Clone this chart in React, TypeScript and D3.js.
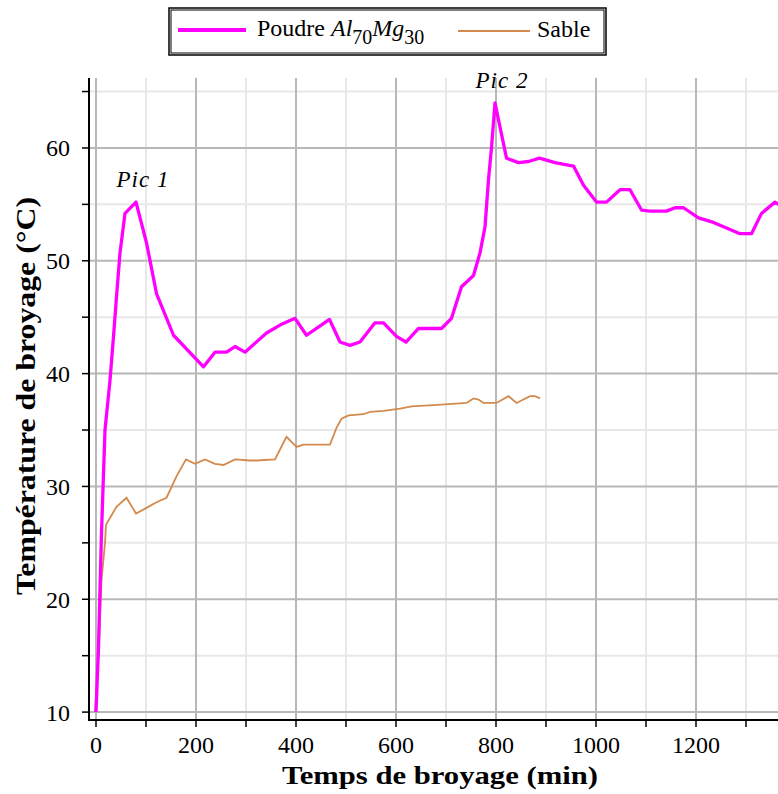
import React from "react";
import * as d3 from "d3";

// Temps de broyage (min) / température (°C)
const poudreTime = [0, 5, 11, 18, 28, 35, 41, 48, 58, 80, 101, 121, 155, 215, 238, 261, 278, 298, 341, 368, 398, 421, 441, 467, 488, 508, 528, 558, 575, 601, 620, 645, 691, 711, 731, 755, 768, 778, 785, 791, 798, 805, 821, 845, 865, 887, 918, 955, 975, 1001, 1021, 1048, 1068, 1091, 1108, 1141, 1158, 1175, 1205, 1235, 1261, 1288, 1311, 1331, 1358, 1372];
const poudreTemp = [10, 15.8, 25.9, 35, 39.4, 43.3, 46.8, 50.7, 54.2, 55.2, 51.6, 47.1, 43.4, 40.6, 41.9, 41.9, 42.4, 41.9, 43.6, 44.3, 44.9, 43.4, 44.0, 44.8, 42.8, 42.5, 42.8, 44.5, 44.5, 43.3, 42.8, 44.0, 44.0, 44.9, 47.7, 48.7, 50.7, 53.0, 57.2, 60.0, 64.0, 62.5, 59.1, 58.7, 58.8, 59.1, 58.7, 58.4, 56.7, 55.2, 55.2, 56.3, 56.3, 54.5, 54.4, 54.4, 54.7, 54.7, 53.8, 53.4, 52.9, 52.4, 52.4, 54.2, 55.2, 54.8];

const sableTime = [-2, 5, 11, 18, 20, 41, 61, 80, 101, 121, 141, 161, 180, 198, 218, 238, 255, 278, 308, 321, 358, 381, 401, 415, 468, 481, 491, 505, 535, 548, 575, 608, 631, 675, 741, 755, 765, 775, 801, 825, 841, 868, 878, 888];
const sableTemp = [10, 14.9, 21.7, 25.0, 26.6, 28.2, 29.0, 27.6, 28.1, 28.6, 29.0, 30.9, 32.4, 32.0, 32.4, 32.0, 31.9, 32.4, 32.3, 32.3, 32.4, 34.4, 33.5, 33.7, 33.7, 35.2, 36.0, 36.3, 36.4, 36.6, 36.7, 36.9, 37.1, 37.2, 37.4, 37.8, 37.7, 37.4, 37.4, 38.0, 37.4, 38.0, 38.0, 37.8];

const xTicks = [0, 200, 400, 600, 800, 1000, 1200];
const yTicks = [10, 20, 30, 40, 50, 60];

const peakLabels = [
  { text: "Pic 1", t: 80, v: 55.2 },
  { text: "Pic 2", t: 798, v: 64.0 },
];

const POUDRE_COLOR = "#ff00ff";
const SABLE_COLOR = "#d48a4c";

export default function App() {
  const W = 778;
  const H = 794;
  const left = 89;
  const right = 778;
  const top = 78;
  const bottom = 720;

  const x = d3.scaleLinear().domain([-14, 1364]).range([left, right]);
  const y = d3.scaleLinear().domain([9.3, 66.2]).range([bottom, top]);

  const line = d3
    .line<[number, number]>()
    .x((d) => x(d[0]))
    .y((d) => y(d[1]));

  const poudre = poudreTime.map((t, i) => [t, poudreTemp[i]] as [number, number]);
  const sable = sableTime.map((t, i) => [t, sableTemp[i]] as [number, number]);

  const xMinor = d3.range(100, 1400, 200);
  const xAll = d3.range(0, 1400, 100);
  const yMinor = d3.range(15, 66, 10);
  const yAll = d3.range(10, 66, 5);

  const serif = "'Liberation Serif', 'DejaVu Serif', serif";

  return (
    <svg
      width={W}
      height={H}
      style={{ position: "absolute", left: 0, top: 0, background: "#fff" }}
      fontFamily={serif}
    >
      <defs>
        <clipPath id="plot">
          <rect x={left} y={top} width={right - left} height={bottom - top} />
        </clipPath>
      </defs>

      {/* grille */}
      <g>
        {xMinor.map((t) => (
          <line key={"xm" + t} x1={x(t)} x2={x(t)} y1={top} y2={bottom} stroke="#e8e8e8" strokeWidth={2} />
        ))}
        {yMinor.map((v) => (
          <line key={"ym" + v} x1={left} x2={right} y1={y(v)} y2={y(v)} stroke="#e8e8e8" strokeWidth={2} />
        ))}
        {xTicks.map((t) => (
          <line key={"xM" + t} x1={x(t)} x2={x(t)} y1={top} y2={bottom} stroke="#b8b8b8" strokeWidth={2} />
        ))}
        {yTicks.map((v) => (
          <line key={"yM" + v} x1={left} x2={right} y1={y(v)} y2={y(v)} stroke="#b8b8b8" strokeWidth={2} />
        ))}
      </g>

      {/* courbes */}
      <g clipPath="url(#plot)">
        <path d={line(sable) ?? ""} fill="none" stroke={SABLE_COLOR} strokeWidth={1.8} />
        <path d={line(poudre) ?? ""} fill="none" stroke={POUDRE_COLOR} strokeWidth={3.3} strokeLinejoin="round" />
      </g>

      {/* axes */}
      <line x1={left} x2={left} y1={top} y2={bottom + 1} stroke="#000" strokeWidth={2} />
      <line x1={left} x2={right} y1={bottom} y2={bottom} stroke="#000" strokeWidth={2} />
      {yAll.map((v) => (
        <line key={"yt" + v} x1={left - 7} x2={left} y1={y(v)} y2={y(v)} stroke="#000" strokeWidth={1.5} />
      ))}
      {xAll.map((t) => (
        <line key={"xt" + t} x1={x(t)} x2={x(t)} y1={bottom} y2={bottom + 7} stroke="#000" strokeWidth={1.5} />
      ))}
      {yTicks.map((v) => (
        <text key={"yl" + v} x={left - 19} y={y(v)} dy="0.35em" textAnchor="end" fontSize={24}>
          {v}
        </text>
      ))}
      {xTicks.map((t) => (
        <text key={"xl" + t} x={x(t)} y={bottom + 33} textAnchor="middle" fontSize={24}>
          {t}
        </text>
      ))}

      {/* titres d'axes */}
      <text
        x={440}
        y={784}
        textAnchor="middle"
        fontSize={26}
        fontWeight="bold"
        textLength={316}
        lengthAdjust="spacingAndGlyphs"
      >
        Temps de broyage (min)
      </text>
      <text
        transform={`translate(35, 396) rotate(-90)`}
        textAnchor="middle"
        fontSize={27}
        fontWeight="bold"
        textLength={398}
        lengthAdjust="spacingAndGlyphs"
      >
        Température de broyage (°C)
      </text>

      {/* annotations des pics */}
      {peakLabels.map((p) => (
        <text
          key={p.text}
          x={x(p.t) + 7}
          y={y(p.v) - 15}
          textAnchor="middle"
          fontSize={23}
          fontStyle="italic"
          letterSpacing={1}
        >
          {p.text}
        </text>
      ))}

      {/* légende */}
      <rect x={169} y={8} width={437} height={47} fill="#fff" stroke="#000" strokeWidth={1.5} />
      <rect x={171} y={10} width={433} height={43} fill="none" stroke="#000" strokeWidth={1} />
      <line x1={178} x2={246} y1={30} y2={30} stroke={POUDRE_COLOR} strokeWidth={4} />
      <text x={257} y={36} fontSize={24}>
        Poudre{" "}
        <tspan fontStyle="italic">Al</tspan>
        <tspan fontSize={20} dy={8}>70</tspan>
        <tspan fontStyle="italic" dy={-8}>Mg</tspan>
        <tspan fontSize={20} dy={8}>30</tspan>
      </text>
      <line x1={458} x2={530} y1={31} y2={31} stroke={SABLE_COLOR} strokeWidth={1.8} />
      <text x={537} y={37} fontSize={24}>
        Sable
      </text>
    </svg>
  );
}
